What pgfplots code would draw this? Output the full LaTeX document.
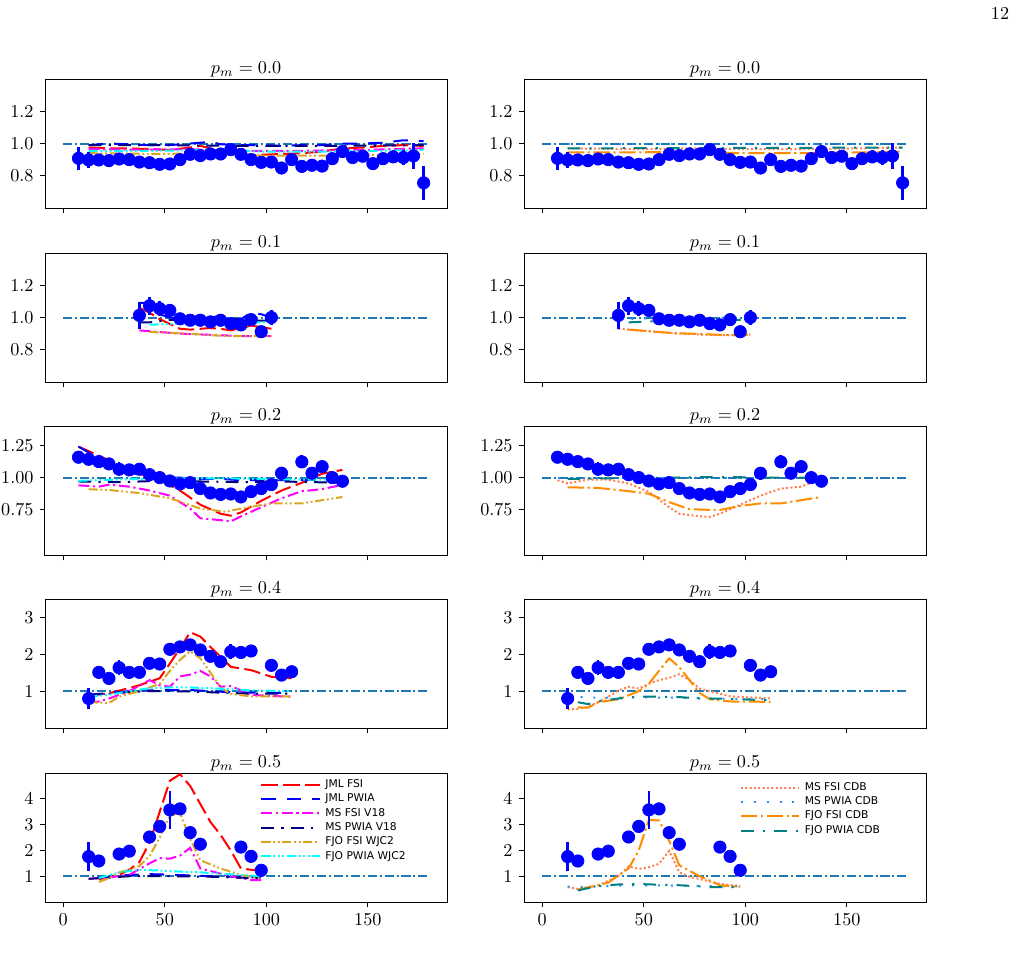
\documentclass[border=0pt]{standalone}
\usepackage{pgfplots}
\pgfplotsset{compat=1.18}
\usepackage{pgfplotstable}
\usepackage{fontspec}
\newfontfamily\legfont{DejaVu Sans}
\definecolor{cZero}{HTML}{1F77B4}
\definecolor{jmlblue}{HTML}{0000FF}
\definecolor{navyc}{HTML}{000080}
\definecolor{goldc}{HTML}{DAA520}
\definecolor{cyanc}{HTML}{00FFFF}
\definecolor{magc}{HTML}{FF00FF}
\definecolor{redc}{HTML}{FF0000}
\definecolor{coralc}{HTML}{FF7F50}
\definecolor{dblue}{HTML}{1E90FF}
\definecolor{dorange}{HTML}{FF8C00}
\definecolor{tealc}{HTML}{008080}

\pgfplotstableread{
x y e
7.5 0.908 0.07
12.5 0.898 0.05
17.5 0.898 0.04
22.5 0.894 0.04
27.5 0.904 0.035
32.5 0.900 0.035
37.5 0.885 0.035
42.5 0.881 0.035
47.5 0.871 0.03
52.5 0.873 0.03
57.5 0.900 0.03
62.5 0.933 0.03
67.5 0.925 0.03
72.5 0.935 0.03
77.5 0.935 0.03
82.5 0.962 0.03
87.5 0.933 0.03
92.5 0.900 0.03
97.5 0.883 0.03
102.5 0.885 0.03
107.5 0.848 0.025
112.5 0.900 0.03
117.5 0.858 0.025
122.5 0.865 0.025
127.5 0.860 0.025
132.5 0.906 0.03
137.5 0.950 0.03
142.5 0.913 0.03
147.5 0.921 0.03
152.5 0.875 0.035
157.5 0.906 0.035
162.5 0.917 0.04
167.5 0.913 0.045
172.5 0.923 0.08
177.5 0.756 0.105
}\dataA
\pgfplotstableread{
x y e
37.5 1.013 0.085
42.5 1.073 0.055
47.5 1.055 0.045
52.5 1.044 0.04
57.5 0.992 0.035
62.5 0.983 0.03
67.5 0.983 0.03
72.5 0.973 0.03
77.5 0.983 0.03
82.5 0.962 0.03
87.5 0.954 0.03
92.5 0.987 0.03
97.5 0.912 0.025
102.5 1.000 0.045
}\dataB
\pgfplotstableread{
x y e
7.5 1.158 0.035
12.5 1.142 0.03
17.5 1.124 0.03
22.5 1.106 0.03
27.5 1.065 0.055
32.5 1.060 0.035
37.5 1.065 0.03
42.5 1.023 0.03
47.5 1.000 0.03
52.5 0.974 0.03
57.5 0.951 0.03
62.5 0.961 0.03
67.5 0.915 0.03
72.5 0.881 0.025
77.5 0.870 0.025
82.5 0.873 0.025
87.5 0.850 0.025
92.5 0.891 0.025
97.5 0.915 0.025
102.5 0.946 0.03
107.5 1.034 0.05
117.5 1.122 0.05
122.5 1.034 0.03
127.5 1.085 0.035
132.5 1.000 0.03
137.5 0.972 0.03
}\dataC
\pgfplotstableread{
x y e
12.5 0.80 0.28
17.5 1.51 0.06
22.5 1.345 0.06
27.5 1.636 0.2
32.5 1.51 0.06
37.5 1.51 0.06
42.5 1.755 0.08
47.5 1.736 0.15
52.5 2.136 0.06
57.5 2.20 0.06
62.5 2.255 0.07
67.5 2.118 0.07
72.5 1.945 0.06
77.5 1.80 0.06
82.5 2.07 0.2
87.5 2.05 0.07
92.5 2.09 0.07
102.5 1.70 0.06
107.5 1.436 0.06
112.5 1.527 0.15
}\dataD
\pgfplotstableread{
x y e
12.5 1.76 0.57
17.5 1.59 0.1
27.5 1.86 0.1
32.5 1.97 0.1
42.5 2.52 0.12
47.5 2.93 0.2
52.5 3.57 0.75
57.5 3.61 0.2
62.5 2.69 0.1
67.5 2.24 0.1
87.5 2.13 0.15
92.5 1.77 0.1
97.5 1.23 0.2
}\dataE

\pgfplotsset{
  base/.style={scale only axis, width=221.1pt, height=70.95pt, anchor=south west,
    xmin=-9, xmax=189, xtick={0,50,100,150}, tick align=outside, tick pos=left,
    major tick length=2.75pt, axis line style={line width=0.55pt},
    every tick/.style={black, line width=0.55pt},
    title style={yshift=-8.5pt},
    legend image code/.code={\draw[#1] (0pt,0pt) -- (32pt,0pt);},
    legend cell align=left},
  notx/.style={xticklabels={}},
  rA/.style={ymin=0.6, ymax=1.4, ytick={0.8,1.0,1.2}, yticklabels={0.8,1.0,1.2}},
  rC/.style={ymin=0.4, ymax=1.4, ytick={0.75,1.0,1.25}, yticklabels={0.75,1.00,1.25}},
  rD/.style={ymin=0, ymax=3.5, ytick={1,2,3}},
  rE/.style={ymin=0, ymax=5, ytick={1,2,3,4}},
  dat/.style={forget plot, only marks, mark=*, mark size=3.4pt, color=jmlblue,
    error bars/.cd, y dir=both, y explicit, error mark=none,
    error bar style={line width=1.5pt, jmlblue}},
  unity/.style={forget plot, cZero, line width=1.1pt, dash pattern=on 5pt off 1.6pt on 1.1pt off 1.6pt},
  jmlfsi/.style={redc, line width=1.1pt, dash pattern=on 9pt off 3pt},
  jmlpwia/.style={jmlblue, line width=1.1pt, dash pattern=on 8pt off 6pt},
  msfsi/.style={magc, line width=1.1pt, dash pattern=on 6pt off 2pt on 1.2pt off 2pt},
  mspwia/.style={navyc, line width=1.1pt, dash pattern=on 7pt off 4pt on 1.2pt off 4pt},
  fjofsi/.style={goldc, line width=1.1pt, dash pattern=on 5pt off 1.5pt on 1pt off 1.5pt on 1pt off 1.5pt},
  fjopwia/.style={cyanc, line width=1.1pt, dash pattern=on 5pt off 1.5pt on 1pt off 1.5pt on 1pt off 1.5pt on 1pt off 1.5pt},
  msfsicdb/.style={coralc, line width=1.1pt, dash pattern=on 1.1pt off 1.3pt},
  mspwiacdb/.style={dblue, line width=1.1pt, dash pattern=on 1.1pt off 6pt},
  fjofsicdb/.style={dorange, line width=1.1pt, dash pattern=on 9pt off 2pt on 1.2pt off 2pt},
  fjopwiacdb/.style={tealc, line width=1.1pt, dash pattern=on 7pt off 5pt on 1.2pt off 5pt},
  leg/.style={legend style={at={(#1)}, anchor=north west, draw=none, fill=none, inner sep=0pt,
    font=\legfont\fontsize{5.9}{6.5}\selectfont, row sep=-2pt,
    nodes={inner xsep=2.6pt}}},
}

\begin{document}
\begin{tikzpicture}
\useasboundingbox (0pt,0pt) rectangle (558.8pt,-535.7pt);
\node[anchor=center] at (550pt,-7.5pt) {12};

% ---------------- Row 1 left
\begin{axis}[base, notx, rA, at={(24.75pt,-114.4pt)}, title={$p_m = 0.0$}]
\addplot[unity] coordinates {(0,1) (180,1)};
\addplot[jmlfsi] coordinates {(12.5,0.975)(22.5,0.97)(32.5,0.97)(42.5,0.965)(52.5,0.96)(62.5,0.975)(67.5,0.985)(72.5,0.97)(77.5,0.94)(87.5,0.93)(97.5,0.93)(107.5,0.935)(117.5,0.94)(127.5,0.95)(137.5,0.97)(147.5,0.975)(157.5,0.985)(167.5,0.99)(177.5,0.985)};
\addplot[jmlpwia] coordinates {(12.5,0.99)(22.5,1.0)(32.5,0.995)(42.5,0.99)(52.5,0.99)(62.5,1.0)(72.5,1.01)(77.5,0.995)(87.5,0.99)(97.5,0.99)(107.5,0.985)(117.5,0.99)(127.5,0.99)(137.5,1.0)(147.5,1.0)(157.5,1.005)(167.5,1.02)(177.5,1.015)};
\addplot[msfsi] coordinates {(12.5,0.965)(37.5,0.962)(62.5,0.965)(72.5,0.96)(87.5,0.955)(117.5,0.955)(147.5,0.96)(177.5,0.97)};
\addplot[mspwia] coordinates {(12.5,0.99)(47.5,0.99)(87.5,0.985)(127.5,0.985)(177.5,0.99)};
\addplot[fjofsi] coordinates {(12.5,0.94)(47.5,0.935)(72.5,0.94)(97.5,0.925)(127.5,0.925)(157.5,0.93)(177.5,0.935)};
\addplot[fjopwia] coordinates {(12.5,0.955)(47.5,0.955)(72.5,0.96)(97.5,0.95)(127.5,0.95)(157.5,0.955)(177.5,0.96)};
\addplot[dat] table[x=x, y=y, y error=e] {\dataA};
\end{axis}

% ---------------- Row 1 right
\begin{axis}[base, notx, rA, at={(288.2pt,-114.4pt)}, title={$p_m = 0.0$}]
\addplot[unity] coordinates {(0,1) (180,1)};
\addplot[msfsicdb] coordinates {(12.5,0.97)(47.5,0.965)(72.5,0.97)(97.5,0.965)(127.5,0.965)(157.5,0.97)(177.5,0.975)};
\addplot[mspwiacdb] coordinates {(12.5,0.997)(177.5,0.997)};
\addplot[fjofsicdb] coordinates {(12.5,0.945)(47.5,0.945)(72.5,0.95)(97.5,0.94)(127.5,0.94)(157.5,0.945)(177.5,0.95)};
\addplot[fjopwiacdb] coordinates {(12.5,0.97)(87.5,0.972)(177.5,0.975)};
\addplot[dat] table[x=x, y=y, y error=e] {\dataA};
\end{axis}

% ---------------- Row 2 left
\begin{axis}[base, notx, rA, at={(24.75pt,-210.1pt)}, title={$p_m = 0.1$}]
\addplot[unity] coordinates {(0,1) (180,1)};
\addplot[jmlfsi] coordinates {(37.5,1.06)(42.5,1.03)(47.5,0.99)(52.5,0.96)(57.5,0.93)(62.5,0.925)(67.5,0.93)(72.5,0.935)(77.5,0.93)(82.5,0.92)(87.5,0.935)(92.5,0.95)(97.5,0.94)(102.5,0.93)};
\addplot[jmlpwia] coordinates {(37.5,1.09)(42.5,1.09)(47.5,1.02)(52.5,1.0)(57.5,0.995)(62.5,1.0)(67.5,1.01)(72.5,1.0)(77.5,1.01)(82.5,0.99)(87.5,0.99)(92.5,1.03)(97.5,1.02)(102.5,1.0)};
\addplot[msfsi] coordinates {(37.5,0.92)(47.5,0.91)(57.5,0.9)(67.5,0.895)(77.5,0.89)(87.5,0.885)(97.5,0.885)(102.5,0.885)};
\addplot[mspwia] coordinates {(37.5,0.97)(42.5,0.97)(52.5,0.985)(62.5,0.99)(72.5,0.99)(82.5,0.99)(92.5,0.98)(102.5,0.98)};
\addplot[fjofsi] coordinates {(42.5,0.91)(52.5,0.905)(62.5,0.9)(72.5,0.89)(82.5,0.885)(92.5,0.885)(102.5,0.885)};
\addplot[fjopwia] coordinates {(42.5,0.955)(52.5,0.96)(62.5,0.965)(72.5,0.965)(82.5,0.965)(92.5,0.97)(102.5,0.97)};
\addplot[dat] table[x=x, y=y, y error=e] {\dataB};
\end{axis}

% ---------------- Row 2 right
\begin{axis}[base, notx, rA, at={(288.2pt,-210.1pt)}, title={$p_m = 0.1$}]
\addplot[unity] coordinates {(0,1) (180,1)};
\addplot[msfsicdb] coordinates {(37.5,0.93)(47.5,0.92)(57.5,0.91)(67.5,0.9)(77.5,0.895)(87.5,0.89)(97.5,0.89)(102.5,0.895)};
\addplot[mspwiacdb] coordinates {(37.5,0.99)(52.5,0.995)(72.5,1.0)(102.5,1.0)};
\addplot[fjofsicdb] coordinates {(42.5,0.925)(52.5,0.915)(62.5,0.905)(72.5,0.9)(82.5,0.895)(92.5,0.89)(102.5,0.895)};
\addplot[fjopwiacdb] coordinates {(42.5,0.97)(52.5,0.975)(62.5,0.98)(72.5,0.985)(82.5,0.985)(92.5,0.985)(102.5,0.985)};
\addplot[dat] table[x=x, y=y, y error=e] {\dataB};
\end{axis}

% ---------------- Row 3 left
\begin{axis}[base, notx, rC, at={(24.75pt,-305.25pt)}, title={$p_m = 0.2$}]
\addplot[unity] coordinates {(0,1) (180,1)};
\addplot[jmlfsi] coordinates {(7.5,1.24)(17.5,1.17)(27.5,1.10)(37.5,1.03)(47.5,0.98)(57.5,0.9)(67.5,0.79)(77.5,0.72)(82.5,0.705)(87.5,0.73)(97.5,0.82)(107.5,0.9)(117.5,0.96)(127.5,1.03)(137.5,1.06)};
\addplot[jmlpwia] coordinates {(7.5,1.24)(17.5,1.15)(27.5,1.07)(37.5,1.02)(47.5,1.0)(57.5,1.0)(67.5,0.99)(77.5,0.99)(87.5,0.98)(97.5,0.98)(107.5,0.98)(117.5,0.98)(127.5,0.985)(137.5,0.99)};
\addplot[msfsi] coordinates {(7.5,0.94)(17.5,0.93)(22.5,0.945)(32.5,0.93)(42.5,0.9)(52.5,0.86)(62.5,0.76)(67.5,0.685)(77.5,0.67)(82.5,0.66)(87.5,0.70)(97.5,0.77)(107.5,0.84)(117.5,0.895)(127.5,0.91)(137.5,0.945)};
\addplot[mspwia] coordinates {(7.5,0.97)(27.5,0.965)(47.5,0.975)(67.5,0.97)(87.5,0.965)(107.5,0.97)(137.5,0.96)};
\addplot[fjofsi] coordinates {(12.5,0.91)(22.5,0.904)(37.5,0.88)(52.5,0.84)(67.5,0.76)(80,0.735)(87.5,0.76)(102.5,0.80)(117.5,0.80)(137.5,0.85)};
\addplot[fjopwia] coordinates {(7.5,0.975)(17.5,0.98)(37.5,0.99)(57.5,0.995)(77.5,0.995)(97.5,0.99)(117.5,0.985)(137.5,0.985)};
\addplot[dat] table[x=x, y=y, y error=e] {\dataC};
\end{axis}

% ---------------- Row 3 right
\begin{axis}[base, notx, rC, at={(288.2pt,-305.25pt)}, title={$p_m = 0.2$}]
\addplot[unity] coordinates {(0,1) (180,1)};
\addplot[msfsicdb] coordinates {(7.5,0.98)(12.5,0.955)(22.5,0.985)(32.5,0.985)(42.5,0.955)(52.5,0.89)(62.5,0.77)(67.5,0.72)(77.5,0.70)(82.5,0.695)(87.5,0.72)(97.5,0.79)(107.5,0.86)(117.5,0.915)(127.5,0.93)(137.5,0.995)};
\addplot[mspwiacdb] coordinates {(7.5,1.0)(47.5,1.0)(97.5,1.0)(137.5,1.0)};
\addplot[fjofsicdb] coordinates {(12.5,0.925)(27.5,0.92)(42.5,0.895)(52.5,0.875)(62.5,0.81)(72.5,0.755)(82.5,0.75)(87.5,0.75)(97.5,0.78)(107.5,0.80)(117.5,0.80)(137.5,0.85)};
\addplot[fjopwiacdb] coordinates {(12.5,0.99)(37.5,0.995)(62.5,1.0)(87.5,1.005)(112.5,1.0)(137.5,1.0)};
\addplot[dat] table[x=x, y=y, y error=e] {\dataC};
\end{axis}

% ---------------- Row 4 left
\begin{axis}[base, notx, rD, at={(24.75pt,-400.4pt)}, title={$p_m = 0.4$}]
\addplot[unity] coordinates {(0,1) (180,1)};
\addplot[jmlfsi] coordinates {(12.5,0.89)(22.5,0.94)(37.5,1.16)(47.5,1.35)(52.5,1.75)(57.5,2.16)(62.5,2.6)(67.5,2.48)(72.5,2.2)(82.5,1.66)(92.5,1.57)(102.5,1.39)(112.5,1.35)};
\addplot[jmlpwia] coordinates {(12.5,0.9)(22.5,0.95)(32.5,1.0)(42.5,1.02)(52.5,1.03)(62.5,1.03)(72.5,1.0)(82.5,0.97)(92.5,0.96)(112.5,0.95)};
\addplot[msfsi] coordinates {(12.5,0.7)(17.5,0.72)(22.5,0.8)(32.5,1.0)(42.5,1.3)(47.5,1.16)(52.5,1.12)(57.5,1.4)(62.5,1.45)(67.5,1.55)(72.5,1.4)(77.5,1.12)(82.5,1.14)(92.5,0.9)(102.5,0.87)(112.5,0.85)};
\addplot[mspwia] coordinates {(12.5,0.9)(22.5,0.93)(32.5,0.98)(42.5,1.0)(52.5,1.0)(62.5,0.99)(72.5,0.97)(82.5,0.95)(92.5,0.93)(112.5,0.93)};
\addplot[fjofsi] coordinates {(12.5,0.7)(22.5,0.68)(27.5,0.85)(37.5,1.0)(47.5,1.2)(52.5,1.55)(57.5,1.85)(62.5,2.08)(67.5,1.89)(72.5,1.5)(77.5,1.1)(82.5,0.92)(92.5,0.86)(102.5,0.86)(112.5,0.86)};
\addplot[fjopwia] coordinates {(12.5,0.85)(22.5,0.9)(32.5,1.0)(42.5,1.08)(52.5,1.1)(62.5,1.1)(72.5,1.08)(82.5,1.05)(92.5,1.02)(112.5,1.0)};
\addplot[dat] table[x=x, y=y, y error=e] {\dataD};
\end{axis}

% ---------------- Row 4 right
\begin{axis}[base, notx, rD, at={(288.2pt,-400.4pt)}, title={$p_m = 0.4$}]
\addplot[unity] coordinates {(0,1) (180,1)};
\addplot[msfsicdb] coordinates {(12.5,0.5)(17.5,0.52)(22.5,0.57)(32.5,0.85)(37.5,1.02)(42.5,1.12)(47.5,1.07)(52.5,1.2)(57.5,1.3)(62.5,1.36)(67.5,1.46)(72.5,1.3)(77.5,1.07)(82.5,1.0)(92.5,0.86)(112.5,0.8)};
\addplot[mspwiacdb] coordinates {(12.5,0.85)(27.5,0.82)(47.5,0.83)(67.5,0.82)(87.5,0.8)(112.5,0.78)};
\addplot[fjofsicdb] coordinates {(17.5,0.56)(22.5,0.55)(27.5,0.7)(37.5,0.78)(47.5,1.0)(52.5,1.2)(57.5,1.55)(62.5,1.89)(67.5,1.65)(72.5,1.3)(77.5,0.95)(82.5,0.78)(92.5,0.72)(112.5,0.71)};
\addplot[fjopwiacdb] coordinates {(17.5,0.7)(22.5,0.65)(27.5,0.72)(37.5,0.8)(47.5,0.85)(57.5,0.85)(67.5,0.84)(77.5,0.8)(87.5,0.8)(112.5,0.75)};
\addplot[dat] table[x=x, y=y, y error=e] {\dataD};
\end{axis}

% ---------------- Row 5 left
\begin{axis}[base, rE, at={(24.75pt,-496.1pt)}, title={$p_m = 0.5$}, leg={0.535,0.98}]
\addplot[unity] coordinates {(0,1) (180,1)};
\addplot[jmlfsi] coordinates {(17.5,0.88)(27.5,1.05)(32.5,1.25)(37.5,1.55)(42.5,2.3)(47.5,3.5)(52.5,4.7)(57.5,4.95)(62.5,4.5)(67.5,3.8)(72.5,3.1)(77.5,2.6)(82.5,2.0)(87.5,1.3)(92.5,1.25)(97.5,1.25)};
\addlegendentry{JML FSI}
\addplot[jmlpwia] coordinates {(17.5,0.95)(32.5,1.05)(42.5,1.08)(52.5,1.06)(62.5,1.03)(72.5,1.0)(82.5,0.98)(97.5,0.95)};
\addlegendentry{JML PWIA}
\addplot[msfsi] coordinates {(12.5,0.9)(22.5,0.95)(32.5,1.05)(42.5,1.5)(47.5,1.7)(52.5,1.68)(57.5,1.8)(62.5,2.1)(67.5,1.3)(72.5,1.2)(82.5,1.0)(92.5,0.85)(97.5,0.85)};
\addlegendentry{MS FSI V18}
\addplot[mspwia] coordinates {(12.5,0.9)(22.5,0.95)(32.5,1.0)(52.5,1.0)(72.5,0.98)(97.5,0.92)};
\addlegendentry{MS PWIA V18}
\addplot[fjofsi] coordinates {(17.5,0.78)(22.5,0.92)(27.5,1.15)(32.5,1.25)(37.5,1.4)(42.5,1.78)(47.5,2.5)(52.5,3.35)(57.5,3.45)(62.5,2.45)(67.5,1.62)(77.5,1.3)(87.5,1.05)(97.5,0.9)};
\addlegendentry{FJO FSI WJC2}
\addplot[fjopwia] coordinates {(17.5,0.93)(27.5,1.15)(37.5,1.25)(47.5,1.22)(57.5,1.18)(67.5,1.15)(77.5,1.1)(87.5,1.05)(97.5,1.0)};
\addlegendentry{FJO PWIA WJC2}
\addplot[dat] table[x=x, y=y, y error=e] {\dataE};
\end{axis}

% ---------------- Row 5 right
\begin{axis}[base, rE, at={(288.2pt,-496.1pt)}, title={$p_m = 0.5$}, leg={0.536,0.96}]
\addplot[unity] coordinates {(0,1) (180,1)};
\addplot[msfsicdb] coordinates {(12.5,0.58)(17.5,0.51)(27.5,0.65)(37.5,1.0)(42.5,1.38)(47.5,1.28)(52.5,1.35)(57.5,1.48)(62.5,1.98)(67.5,1.15)(72.5,0.98)(82.5,0.8)(87.5,0.7)(97.5,0.62)};
\addlegendentry{MS FSI CDB}
\addplot[mspwiacdb] coordinates {(12.5,0.6)(22.5,0.58)(32.5,0.62)(47.5,0.65)(62.5,0.64)(82.5,0.62)(97.5,0.6)};
\addlegendentry{MS PWIA CDB}
\addplot[fjofsicdb] coordinates {(17.5,0.48)(27.5,0.65)(32.5,0.75)(42.5,1.3)(47.5,2.0)(52.5,3.18)(57.5,3.16)(62.5,2.38)(67.5,1.42)(77.5,1.0)(87.5,0.65)(97.5,0.58)};
\addlegendentry{FJO FSI CDB}
\addplot[fjopwiacdb] coordinates {(17.5,0.45)(27.5,0.62)(37.5,0.68)(47.5,0.7)(57.5,0.67)(67.5,0.65)(82.5,0.58)(97.5,0.58)};
\addlegendentry{FJO PWIA CDB}
\addplot[dat] table[x=x, y=y, y error=e] {\dataE};
\end{axis}
\end{tikzpicture}
\end{document}
